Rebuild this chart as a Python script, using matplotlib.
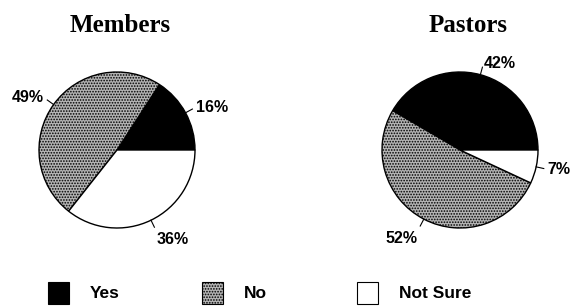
import numpy as np
import matplotlib
matplotlib.use("Agg")
import matplotlib.pyplot as plt
from matplotlib.patches import Rectangle

categories = ["Yes", "No", "Not Sure"]
groups = ["Members", "Pastors"]
members = [16, 49, 36]
pastors = [42, 52, 7]
pct_labels = {"Members": ["16%", "49%", "36%"], "Pastors": ["42%", "52%", "7%"]}

colors = ["black", "#b4b4b4", "white"]
hatches = [None, "......", None]

plt.rcParams['hatch.linewidth'] = 0.8

W, H = 571, 306
fig = plt.figure(figsize=(W / 100, H / 100), dpi=100)
ax = fig.add_axes([0, 0, 1, 1])

centers = {"Members": (117, H - 150), "Pastors": (460, H - 150)}
R = 78
title_pos = {"Members": 120, "Pastors": 468}

for g, vals in zip(groups, [members, pastors]):
    cx, cy = centers[g]
    wedges, _ = ax.pie(vals, colors=colors, startangle=0, counterclock=True,
                       center=(cx, cy), radius=R, frame=True,
                       wedgeprops=dict(edgecolor='black', linewidth=1.0))
    for w, h in zip(wedges, hatches):
        if h:
            w.set_hatch(h)
    ax.text(title_pos[g], H - 25, g, ha='center', va='center',
            fontfamily='Liberation Serif', fontweight='bold', fontsize=18)
    for w, lab in zip(wedges, pct_labels[g]):
        ang = np.deg2rad((w.theta1 + w.theta2) / 2)
        c, s = np.cos(ang), np.sin(ang)
        ax.plot([cx + R * c, cx + 1.1 * R * c], [cy + R * s, cy + 1.1 * R * s],
                color='black', lw=0.8)
        ha = 'left' if c > 0.25 else ('right' if c < -0.25 else 'center')
        if s < -0.5:
            tx, ty, va = cx + 1.17 * R * c, cy + 1.17 * R * s, 'top'
        else:
            tx, ty, va = cx + 1.15 * R * c, cy + 1.15 * R * s, 'center'
        ax.text(tx, ty, lab, ha=ha, va=va, fontfamily='Liberation Sans',
                fontweight='bold', fontsize=11.5)

ax.set_xlim(0, W)
ax.set_ylim(0, H)
ax.set_aspect('equal')
ax.axis('off')

leg_x = [48, 202, 357]
for i, (cat, col, h) in enumerate(zip(categories, colors, hatches)):
    x0 = leg_x[i]
    ax.add_patch(Rectangle((x0, H - 304), 21, 22, facecolor=col, edgecolor='black',
                           linewidth=0.8, hatch=h))
    ax.text(x0 + 42, H - 294, cat, ha='left', va='center', fontfamily='Liberation Sans',
            fontweight='bold', fontsize=12.5)

fig.savefig("out.png", dpi=100)
